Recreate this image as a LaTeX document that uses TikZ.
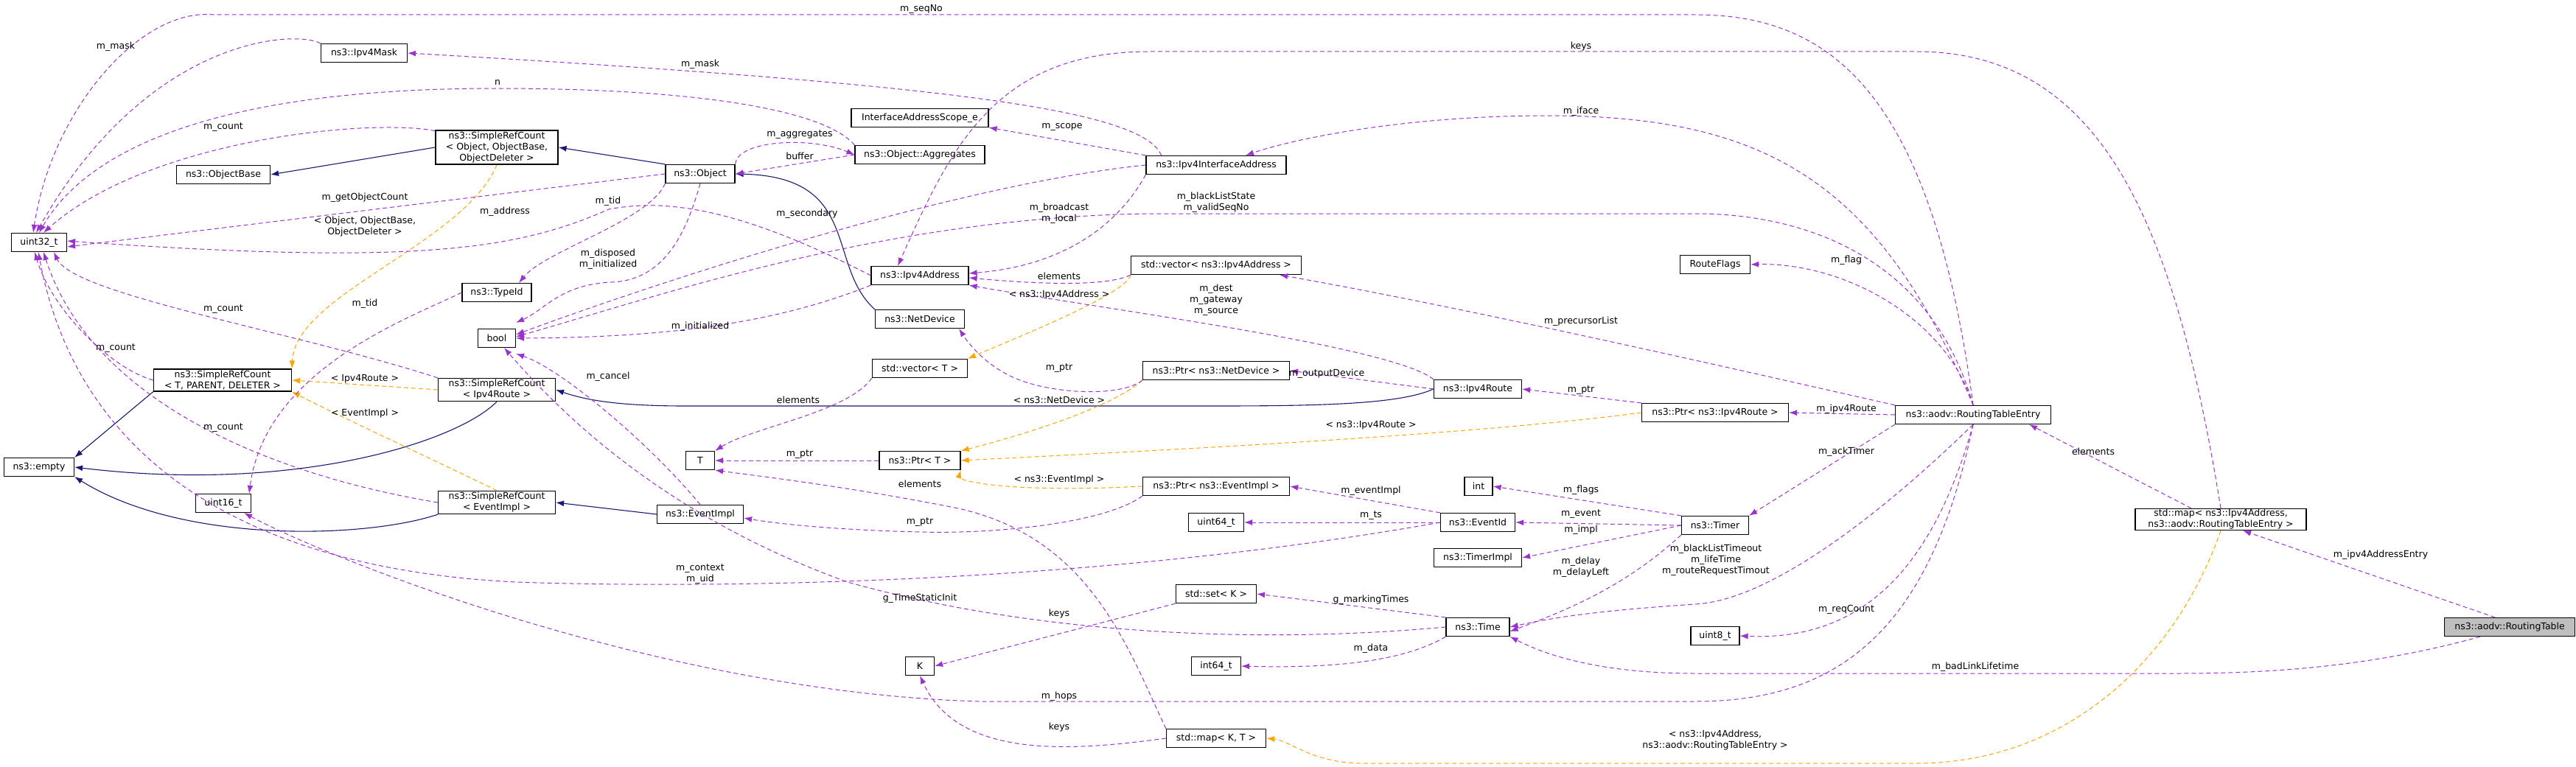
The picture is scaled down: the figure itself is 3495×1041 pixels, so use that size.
\documentclass[tikz,border=0pt]{standalone}
\usepackage{fontspec}
\setmainfont{DejaVu Sans}
\usetikzlibrary{arrows.meta}
\definecolor{pur}{HTML}{9A32CD}
\definecolor{org}{HTML}{FFA500}
\definecolor{nav}{HTML}{191970}
\begin{document}
\begin{tikzpicture}[x=1pt,y=-1pt,
  font=\fontsize{12.5}{15}\selectfont,
  box/.style={draw=black,line width=1.2pt,minimum height=25pt,inner xsep=4pt,inner ysep=2pt,align=center,fill=white},
  lab/.style={inner sep=0pt,align=center,font=\fontsize{12.5}{15}\selectfont},
  tip/.style={-{Latex[length=11pt,width=8pt]}},
  use/.style={tip,draw=pur,dashed,dash pattern=on 6pt off 4pt,line width=1pt},
  tmpl/.style={tip,draw=org,dashed,dash pattern=on 6pt off 4pt,line width=1pt},
  inh/.style={tip,draw=nav,line width=1.1pt}]
\useasboundingbox (0,0) rectangle (3495,1041);
% nodes
\node[box,minimum width=75pt] (uint32) at (53,329) {uint32\_t};
\node[box,minimum width=117pt] (ipv4mask) at (494,72) {ns3::Ipv4Mask};
\node[box,minimum width=166pt] (srcobj) at (674,200) {ns3::SimpleRefCount\\{}< Object, ObjectBase,\\ObjectDeleter >};
\node[box,minimum width=127pt] (objbase) at (303,237) {ns3::ObjectBase};
\node[box,minimum width=94pt] (object) at (950,236) {ns3::Object};
\node[box,minimum width=94pt] (typeid) at (674,397) {ns3::TypeId};
\node[box,minimum width=51pt] (bool) at (674,459) {bool};
\node[box,minimum width=187pt] (srctpd) at (302,516) {ns3::SimpleRefCount\\{}< T, PARENT, DELETER >};
\node[box,minimum width=159pt] (srcroute) at (674,529) {ns3::SimpleRefCount\\{}< Ipv4Route >};
\node[box,minimum width=95pt] (empty) at (53,634) {ns3::empty};
\node[box,minimum width=75pt] (uint16) at (303,683) {uint16\_t};
\node[box,minimum width=159pt] (srcevent) at (674,682) {ns3::SimpleRefCount\\{}< EventImpl >};
\node[box,minimum width=117pt] (eventimpl) at (950,698) {ns3::EventImpl};
\node[box,minimum width=39pt] (T) at (950,625) {T};
\node[box,minimum width=186pt] (ifscope) at (1248,160) {InterfaceAddressScope\_e};
\node[box,minimum width=176pt] (aggr) at (1248,210) {ns3::Object::Aggregates};
\node[box,minimum width=190pt] (ipv4ia) at (1650,224) {ns3::Ipv4InterfaceAddress};
\node[box,minimum width=132pt] (ipv4addr) at (1248,374) {ns3::Ipv4Address};
\node[box,minimum width=231pt] (vecipv4) at (1650,360) {std::vector< ns3::Ipv4Address >};
\node[box,minimum width=121pt] (netdev) at (1248,433) {ns3::NetDevice};
\node[box,minimum width=129pt] (vecT) at (1248,500) {std::vector< T >};
\node[box,minimum width=199pt] (ptrnd) at (1650,503) {ns3::Ptr< ns3::NetDevice >};
\node[box,minimum width=95pt] (rflags) at (2327,359) {RouteFlags};
\node[box,minimum width=119pt] (ipv4route) at (2005,528) {ns3::Ipv4Route};
\node[box,minimum width=199pt] (ptrroute) at (2327,560) {ns3::Ptr< ns3::Ipv4Route >};
\node[box,minimum width=110pt] (ptrT) at (1248,625) {ns3::Ptr< T >};
\node[box,minimum width=199pt] (ptrevent) at (1650,660) {ns3::Ptr< ns3::EventImpl >};
\node[box,minimum width=38pt] (int) at (2006,660) {int};
\node[box,minimum width=75pt] (uint64) at (1650,709) {uint64\_t};
\node[box,minimum width=101pt] (eventid) at (2005,709) {ns3::EventId};
\node[box,minimum width=119pt] (timerimpl) at (2005,757) {ns3::TimerImpl};
\node[box,minimum width=91pt] (timer) at (2327,713) {ns3::Timer};
\node[box,minimum width=109pt] (setK) at (1650,806) {std::set< K >};
\node[box,minimum width=86pt] (time) at (2005,851) {ns3::Time};
\node[box,minimum width=39pt] (K) at (1248,904) {K};
\node[box,minimum width=67pt] (int64) at (1650,904) {int64\_t};
\node[box,minimum width=135pt] (mapKT) at (1650,1002) {std::map< K, T >};
\node[box,minimum width=66pt] (uint8) at (2327,863) {uint8\_t};
\node[box,minimum width=211pt] (rte) at (2677,563) {ns3::aodv::RoutingTableEntry};
\node[box,minimum width=232pt,inner ysep=1pt] (mapipv4) at (3013,705) {std::map< ns3::Ipv4Address,\\ns3::aodv::RoutingTableEntry >};
\node[box,minimum width=177pt,fill=black!25] (rtable) at (3405,851) {ns3::aodv::RoutingTable};
% inheritance
\draw[inh] (srcobj.west) -- (objbase.east);
\draw[inh] (object.north west) -- (srcobj.east);
\draw[inh] (netdev.north west) .. controls (1120,360) and (1170,240) .. (object.east);
\draw[inh] (srctpd.south west) -- (empty.north east);
\draw[inh] (srcroute.south) .. controls (620,600) and (400,670) .. (empty.east);
\draw[inh] (srcevent.south west) .. controls (500,730) and (250,740) .. (empty.south east);
\draw[inh] (eventimpl.west) -- (srcevent.east);
\draw[inh] (ipv4route.west) .. controls (1900,548) and (1800,551) .. (1650,551) -- (930,551) .. controls (850,551) and (800,545) .. (srcroute.east);
% template
\draw[tmpl] (srcobj.south) .. controls (630,330) and (400,400) .. (srctpd.north east);
\draw[tmpl] (srcroute.west) -- (srctpd.east);
\draw[tmpl] (srcevent.north) .. controls (580,620) and (450,560) .. (srctpd.south east);
\draw[tmpl] (vecipv4.south west) .. controls (1530,400) and (1350,470) .. (vecT.north east);
\draw[tmpl] (ptrnd.south west) .. controls (1500,560) and (1350,600) .. (ptrT.north east);
\draw[tmpl] (ptrroute.west) .. controls (2000,590) and (1600,610) .. (ptrT.east);
\draw[tmpl] (ptrevent.west) .. controls (1350,670) and (1300,650) .. (ptrT.south east);
\draw[tmpl] (mapipv4.south) .. controls (2950,900) and (2800,1036) .. (2600,1036) -- (1850,1036) .. controls (1780,1036) and (1750,1005) .. (mapKT.east);
% usage
\draw[use] (rte.north) .. controls (2620,120) and (2480,20) .. (2300,20) -- (290,20) .. controls (190,10) and (70,150) .. ([xshift=-8pt]uint32.north);
\draw[use] (ipv4ia.170) .. controls (1550,150) and (1300,115) .. (ipv4mask.east);
\draw[use] (ipv4mask.north west) .. controls (400,40) and (200,50) .. ([xshift=-4pt]uint32.north);
\draw[use] (aggr.north west) .. controls (1120,150) and (950,120) .. (673,120) .. controls (300,120) and (120,200) .. (uint32.north);
\draw[use] (srcobj.165) .. controls (500,160) and (200,190) .. ([xshift=6pt]uint32.north);
\draw[use] (object.west) -- ([yshift=-6pt]uint32.east);
\draw[use] (ipv4addr.west) .. controls (1000,280) and (900,270) .. (826,284) .. controls (700,340) and (560,360) .. ([yshift=2pt]uint32.east);
\draw[use] (object.north east) .. controls (1000,190) and (1100,185) .. (aggr.west);
\draw[use] (aggr.west) -- (object.east);
\draw[use] (ipv4ia.north west) -- (ifscope.south east);
\draw[use] (rte.north) .. controls (2550,250) and (2400,157) .. (2100,157) .. controls (1900,157) and (1750,190) .. ([xshift=40pt]ipv4ia.north);
\draw[use] (mapipv4.north) .. controls (2950,300) and (2850,70) .. (2600,70) -- (1560,70) .. controls (1350,70) and (1290,200) .. ([xshift=-30pt]ipv4addr.north);
\draw[use] (ipv4ia.south west) .. controls (1520,300) and (1450,360) .. ([yshift=3pt]ipv4addr.east);
\draw[use] (ipv4ia.west) .. controls (1300,250) and (900,380) .. ([yshift=5pt]bool.east);
\draw[use] (rte.north) .. controls (2620,350) and (2450,290) .. (2300,290) -- (1560,290) .. controls (1200,295) and (900,400) .. ([yshift=2pt]bool.east);
\draw[use] (object.south west) .. controls (880,300) and (740,340) .. ([xshift=30pt]typeid.north);
\draw[use] (object.south) .. controls (930,320) and (900,380) .. (830,383) .. controls (760,386) and (740,420) .. ([yshift=8pt]bool.north east);
\draw[use] (ipv4addr.south west) .. controls (1050,440) and (900,458) .. (bool.east);
\draw[use] (typeid.west) .. controls (560,430) and (360,500) .. ([xshift=35pt]uint16.north);
\draw[use] (srctpd.west) .. controls (150,500) and (70,420) .. ([xshift=-6pt]uint32.south);
\draw[use] (srcroute.north west) .. controls (400,450) and (100,400) .. ([xshift=20pt]uint32.south);
\draw[use] (srcevent.west) .. controls (400,650) and (130,560) .. ([xshift=6pt]uint32.south);
\draw[use] (eventimpl.north) .. controls (880,600) and (760,500) .. ([yshift=-8pt]bool.south east);
\draw[use] (eventid.west) .. controls (1500,790) and (1000,800) .. (700,790) .. controls (300,770) and (100,600) .. ([xshift=-1pt]uint32.south);
\draw[use] (time.west) .. controls (1700,875) and (1400,860) .. (1150,790) .. controls (900,700) and (760,560) .. ([xshift=10pt]bool.south);
\draw[use] (rte.south) .. controls (2620,850) and (2500,952) .. (2300,952) -- (1330,952) .. controls (900,940) and (450,760) .. ([xshift=-10pt]uint16.south east);
\draw[use] (mapKT.north west) .. controls (1530,880) and (1480,730) .. (1300,690) .. controls (1150,660) and (1020,645) .. (T.south east);
\draw[use] (vecT.south west) .. controls (1150,560) and (1020,580) .. (T.north east);
\draw[use] (ptrT.west) -- (T.east);
\draw[use] (ptrnd.south west) .. controls (1520,540) and (1420,535) .. (1370,510) .. controls (1330,490) and (1310,460) .. ([xshift=-8pt]netdev.south east);
\draw[use] (ptrevent.south west) .. controls (1500,710) and (1350,725) .. (1250,722) .. controls (1150,720) and (1060,712) .. ([yshift=-5pt]eventimpl.east);
\draw[use] (ipv4route.west) -- (ptrnd.east);
\draw[use] (ipv4route.north west) .. controls (1890,470) and (1500,420) .. (ipv4addr.south east);
\draw[use] (rte.north west) .. controls (2350,500) and (2000,420) .. ([xshift=-30pt]vecipv4.south east);
\draw[use] (rte.north) .. controls (2640,430) and (2500,356) .. (rflags.east);
\draw[use] (rte.west) -- (ptrroute.east);
\draw[use] (ptrroute.north west) -- (ipv4route.east);
\draw[use] (rte.south west) -- (timer.north east);
\draw[use] (rte.south) .. controls (2550,700) and (2400,815) .. (2300,820) .. controls (2150,830) and (2100,840) .. (time.east);
\draw[use] (rte.south) .. controls (2620,780) and (2520,870) .. (uint8.east);
\draw[use] (timer.north west) -- (int.east);
\draw[use] (timer.west) -- (eventid.east);
\draw[use] (timer.west) -- (timerimpl.east);
\draw[use] (timer.south west) .. controls (2200,800) and (2120,830) .. ([yshift=-6pt]time.east);
\draw[use] (eventid.north west) -- (ptrevent.east);
\draw[use] (eventid.west) -- (uint64.east);
\draw[use] (time.north west) -- (setK.east);
\draw[use] (time.south west) .. controls (1900,900) and (1800,907) .. (int64.east);
\draw[use] (setK.south west) -- (K.east);
\draw[use] (mapKT.west) .. controls (1450,1020) and (1300,1030) .. (K.south);
\draw[use] ([xshift=-40pt]mapipv4.north) -- ([xshift=-30pt]rte.south east);
\draw[use] ([xshift=-20pt]rtable.north) -- ([xshift=30pt]mapipv4.south);
\draw[use] ([xshift=-40pt]rtable.south) .. controls (3200,910) and (3050,914) .. (2950,914) -- (2300,914) .. controls (2150,914) and (2080,880) .. (time.south east);
\draw[use] (vecipv4.south west) .. controls (1500,390) and (1400,385) .. ([yshift=-3pt]ipv4addr.east);
% labels
\node[lab] (l1) at (1250,12) {m\_seqNo};
\node[lab] (l2) at (950,87) {m\_mask};
\node[lab] (l3) at (157,63) {m\_mask};
\node[lab] (l4) at (675,112) {n};
\node[lab] (l5) at (303,173) {m\_count};
\node[lab] (l6) at (495,268) {m\_getObjectCount};
\node[lab] (l7) at (685,287) {m\_address};
\node[lab] (l8) at (1085,183) {m\_aggregates};
\node[lab] (l9) at (1085,212) {buffer};
\node[lab] (l10) at (1441,172) {m\_scope};
\node[lab] (l11) at (2145,151) {m\_iface};
\node[lab] (l12) at (2145,63) {keys};
\node[lab] (l13) at (1437,290) {m\_broadcast\\m\_local};
\node[lab] (l14) at (1095,290) {m\_secondary};
\node[lab] (l15) at (1650,275) {m\_blackListState\\m\_validSeqNo};
\node[lab] (l16) at (825,273) {m\_tid};
\node[lab] (l17) at (825,352) {m\_disposed\\m\_initialized};
\node[lab] (l18) at (950,443) {m\_initialized};
\node[lab] (l19) at (495,412) {m\_tid};
\node[lab] (l20) at (157,473) {m\_count};
\node[lab] (l21) at (303,420) {m\_count};
\node[lab] (l22) at (303,581) {m\_count};
\node[lab] (l23) at (825,511) {m\_cancel};
\node[lab] (l24) at (950,779) {m\_context\\m\_uid};
\node[lab] (l25) at (1248,812) {g\_TimeStaticInit};
\node[lab] (l26) at (1437,945) {m\_hops};
\node[lab] (l27) at (1248,657) {elements};
\node[lab] (l28) at (1083,543) {elements};
\node[lab] (l29) at (1085,617) {m\_ptr};
\node[lab] (l30) at (1437,500) {m\_ptr};
\node[lab] (l31) at (1248,709) {m\_ptr};
\node[lab] (l32) at (1800,507) {m\_outputDevice};
\node[lab] (l33) at (1650,407) {m\_dest\\m\_gateway\\m\_source};
\node[lab] (l34) at (2145,436) {m\_precursorList};
\node[lab] (l35) at (2505,353) {m\_flag};
\node[lab] (l36) at (2505,555) {m\_ipv4Route};
\node[lab] (l37) at (2145,530) {m\_ptr};
\node[lab] (l38) at (2505,613) {m\_ackTimer};
\node[lab] (l39) at (2328,760) {m\_blackListTimeout\\m\_lifeTime\\m\_routeRequestTimout};
\node[lab] (l40) at (2505,827) {m\_reqCount};
\node[lab] (l41) at (2145,665) {m\_flags};
\node[lab] (l42) at (2145,698) {m\_event};
\node[lab] (l43) at (2145,719) {m\_impl};
\node[lab] (l44) at (2145,770) {m\_delay\\m\_delayLeft};
\node[lab] (l45) at (1860,666) {m\_eventImpl};
\node[lab] (l46) at (1860,700) {m\_ts};
\node[lab] (l47) at (1860,814) {g\_markingTimes};
\node[lab] (l48) at (1860,880) {m\_data};
\node[lab] (l49) at (1437,833) {keys};
\node[lab] (l50) at (1437,987) {keys};
\node[lab] (l51) at (2840,613) {elements};
\node[lab] (l52) at (3230,753) {m\_ipv4AddressEntry};
\node[lab] (l53) at (2680,905) {m\_badLinkLifetime};
\node[lab] (l54) at (1437,375) {elements};
\node[lab] (o1) at (495,308) {< Object, ObjectBase,\\ObjectDeleter >};
\node[lab] (o2) at (495,514) {< Ipv4Route >};
\node[lab] (o3) at (495,561) {< EventImpl >};
\node[lab] (o4) at (1437,400) {< ns3::Ipv4Address >};
\node[lab] (o5) at (1437,543) {< ns3::NetDevice >};
\node[lab] (o6) at (1860,577) {< ns3::Ipv4Route >};
\node[lab] (o7) at (1437,651) {< ns3::EventImpl >};
\node[lab] (o8) at (2327,1005) {< ns3::Ipv4Address,\\ns3::aodv::RoutingTableEntry >};
\end{tikzpicture}
\end{document}
